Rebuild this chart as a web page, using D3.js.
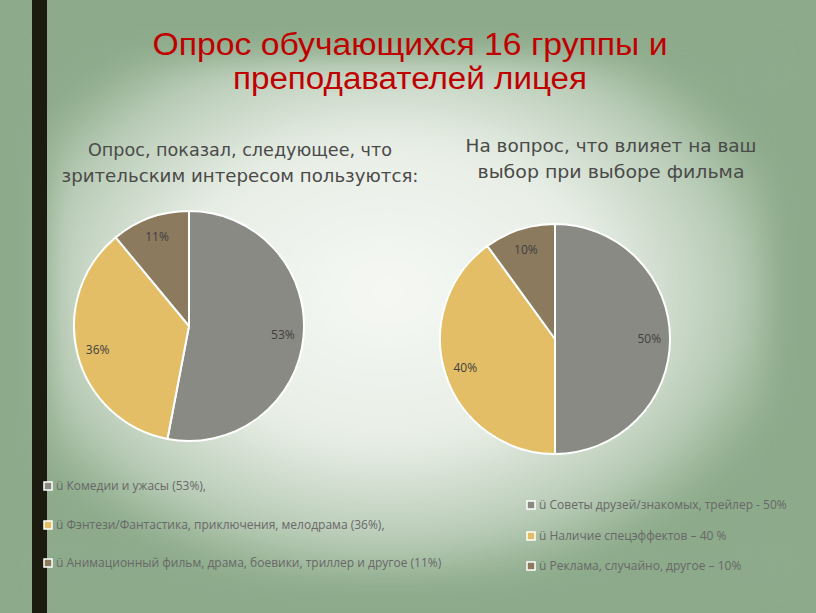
<!DOCTYPE html>
<html><head><meta charset="utf-8">
<script src="https://cdn.jsdelivr.net/npm/d3@7"></script>
<style>html,body{margin:0;padding:0;background:#8dab8b;}svg{display:block;}</style>
</head><body>
<script>
const titleLines = ["Опрос обучающихся 16 группы и", "преподавателей лицея"];
const leftTitle = ["Опрос, показал, следующее, что", "зрительским интересом пользуются:"];
const rightTitle = ["На вопрос, что влияет на ваш", "выбор при выборе фильма"];
const leftValues = [53, 36, 11];
const leftLabels = ["53%", "36%", "11%"];
const leftLegend = ["ü Комедии и ужасы (53%),", "ü Фэнтези/Фантастика, приключения, мелодрама (36%),", "ü Анимационный фильм, драма, боевики, триллер и другое (11%)"];
const rightValues = [50, 40, 10];
const rightLabels = ["50%", "40%", "10%"];
const rightLegend = ["ü Советы друзей/знакомых, трейлер - 50%", "ü Наличие спецэффектов – 40 %", "ü Реклама, случайно, другое – 10%"];
const colors = ["#8a8a84", "#e4be66", "#8b7a5e"];

const W = 816, H = 613;
const svg = d3.select("body").append("svg").attr("width", W).attr("height", H);
const defs = svg.append("defs");
const rg = defs.append("radialGradient").attr("id", "glow").attr("cx", "0.47").attr("cy", "0.45").attr("r", "0.58");
rg.append("stop").attr("offset", "0").attr("stop-color", "#f6f8f4");
rg.append("stop").attr("offset", "0.5").attr("stop-color", "#e8eee6");
rg.append("stop").attr("offset", "0.82").attr("stop-color", "#b9ccb7");
rg.append("stop").attr("offset", "1").attr("stop-color", "#8dab8b");
const f = defs.append("filter").attr("id", "blur").attr("x", "-20%").attr("y", "-20%").attr("width", "140%").attr("height", "140%");
f.append("feGaussianBlur").attr("stdDeviation", 14);

svg.append("rect").attr("width", W).attr("height", H).attr("fill", "#8dab8b");
svg.append("rect").attr("x", 48).attr("y", 58).attr("width", 722).attr("height", 520)
  .attr("fill", "url(#glow)").attr("filter", "url(#blur)");
svg.append("rect").attr("x", 32).attr("y", 0).attr("width", 15).attr("height", H).attr("fill", "#1b1b0f");

// Title
const tt = svg.append("g");
[[titleLines[0], 55, 515], [titleLines[1], 89, 354]].forEach(([t, y, len]) => {
  tt.append("text").attr("x", 410).attr("y", y).attr("text-anchor", "middle")
    .attr("font-family", "'Liberation Sans Narrow','Liberation Sans',sans-serif").attr("font-size", 31)
    .attr("fill", "#c00000").attr("textLength", len).attr("lengthAdjust", "spacingAndGlyphs").text(t);
});

function subtitle(lines, cx, ys, lens) {
  lines.forEach((t, i) => {
    svg.append("text").attr("x", cx).attr("y", ys[i]).attr("text-anchor", "middle")
      .attr("font-family", "'DejaVu Sans',sans-serif").attr("font-size", 18.5)
      .attr("fill", "#4a4a48").attr("textLength", lens[i]).attr("lengthAdjust", "spacingAndGlyphs").text(t);
  });
}
subtitle(leftTitle, 240, [156, 182], [304, 357]);
subtitle(rightTitle, 611, [152, 178], [291, 267]);

function pie(values, labels, cx, cy, r, labelPos) {
  const arcs = d3.pie().sort(null).value(d => d)(values);
  const arc = d3.arc().innerRadius(0).outerRadius(r);
  const g = svg.append("g").attr("transform", `translate(${cx},${cy})`);
  g.selectAll("path").data(arcs).join("path").attr("d", arc)
    .attr("fill", (d, i) => colors[i]).attr("stroke", "#ffffff").attr("stroke-width", 2);
  const la = d3.arc().innerRadius(r * labelPos).outerRadius(r * labelPos);
  g.selectAll("text").data(arcs).join("text")
    .attr("transform", d => `translate(${la.centroid(d)})`)
    .attr("text-anchor", "middle").attr("dy", "0.35em")
    .attr("font-family", "'Open Sans','DejaVu Sans',sans-serif").attr("font-size", 12)
    .attr("fill", "#404040").text((d, i) => labels[i]);
}
pie(leftValues, leftLabels, 189, 326, 115, 0.82);
pie(rightValues, rightLabels, 555, 339, 115, 0.82);

function legend(items, x, ys) {
  items.forEach((t, i) => {
    svg.append("rect").attr("x", x).attr("y", ys[i] - 8).attr("width", 8).attr("height", 8)
      .attr("fill", colors[i]).attr("stroke", "#ffffff").attr("stroke-width", 1.5);
    svg.append("text").attr("x", x + 12).attr("y", ys[i]).attr("font-family", "'Open Sans','DejaVu Sans',sans-serif")
      .attr("font-size", 12).attr("fill", "#686868").text(t);
  });
}
legend(leftLegend, 44, [490, 529, 567]);
legend(rightLegend, 527, [509, 540, 570]);
</script>
</body></html>
